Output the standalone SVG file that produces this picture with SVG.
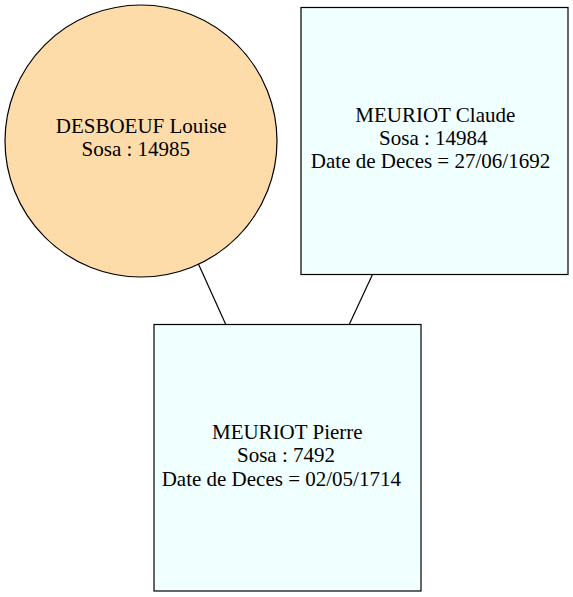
<svg xmlns="http://www.w3.org/2000/svg" width="573" height="597" viewBox="0 0 573 597">
<style>
.node-shape{stroke:#000;stroke-width:1.2}
.person{fill:#f0ffff}
.female{fill:#fddcaa}
.lbl{font-size:21px;fill:#000;text-anchor:middle}
.edge{stroke:#000;stroke-width:1.2;fill:none}
</style>
<rect width="573" height="597" fill="#fff"/>
<g id="connectors">
<line class="edge" x1="198" y1="263" x2="226" y2="325"/>
<line class="edge" x1="372.5" y1="274.5" x2="349" y2="325"/>
</g>
<g font-family="'Liberation Serif', 'DejaVu Serif', serif">
<g id="desboeuf-louise">
<circle class="node-shape female" cx="141" cy="141" r="136"/>
<text class="lbl" x="141.2" y="133">DESBOEUF Louise</text>
<text class="lbl" x="135.8" y="156">Sosa : 14985</text>
</g>
<g id="meuriot-claude">
<rect class="node-shape person" x="301" y="7.5" width="267" height="267"/>
<text class="lbl" x="435.3" y="121.5">MEURIOT Claude</text>
<text class="lbl" x="433.3" y="144.5">Sosa : 14984</text>
<text class="lbl" x="430.5" y="167.5">Date de Deces = 27/06/1692</text>
</g>
<g id="meuriot-pierre">
<rect class="node-shape person" x="154" y="324.5" width="267" height="266.5"/>
<text class="lbl" x="287.3" y="439">MEURIOT Pierre</text>
<text class="lbl" x="286" y="462">Sosa : 7492</text>
<text class="lbl" x="281.3" y="485.5">Date de Deces = 02/05/1714</text>
</g>
</g>
</svg>
